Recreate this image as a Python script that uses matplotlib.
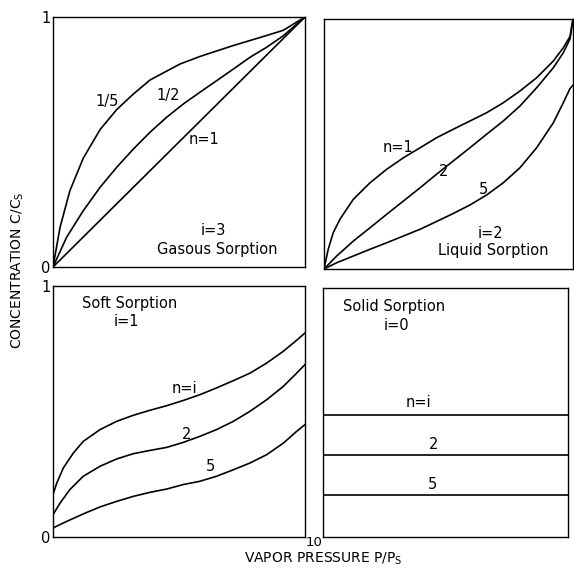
import matplotlib
matplotlib.use("Agg")
import matplotlib.pyplot as plt

# ---- data ----
# Gaseous sorption (i=3)
gas_x15 = [0.0, 0.028, 0.067, 0.12, 0.187, 0.253, 0.319, 0.385, 0.504,
           0.583, 0.649, 0.716, 0.782, 0.848, 0.914, 1.0]
gas_n15 = [0.0, 0.159, 0.305, 0.435, 0.55, 0.63, 0.692, 0.748, 0.812,
           0.842, 0.864, 0.886, 0.906, 0.926, 0.947, 1.0]
gas_x12 = [0.0, 0.054, 0.12, 0.187, 0.253, 0.319, 0.385, 0.451, 0.517,
           0.583, 0.649, 0.716, 0.782, 0.848, 0.914, 1.0]
gas_n12 = [0.0, 0.119, 0.225, 0.319, 0.399, 0.472, 0.539, 0.599, 0.652,
           0.699, 0.745, 0.792, 0.839, 0.879, 0.925, 1.0]
gas_x1 = [0.0, 1.0]
gas_n1 = [0.0, 1.0]

# Liquid sorption (i=2)
liq_x1 = [0.0, 0.017, 0.037, 0.064, 0.118, 0.185, 0.252, 0.319, 0.386, 0.452,
          0.519, 0.586, 0.653, 0.72, 0.787, 0.854, 0.921, 0.961, 0.988, 1.0]
liq_n1 = [0.0, 0.079, 0.145, 0.199, 0.279, 0.345, 0.399, 0.445, 0.485, 0.525,
          0.559, 0.592, 0.625, 0.665, 0.712, 0.765, 0.832, 0.885, 0.93, 1.0]
liq_x2 = [0.0, 0.051, 0.118, 0.185, 0.252, 0.319, 0.386, 0.452, 0.519, 0.586,
          0.653, 0.72, 0.787, 0.854, 0.921, 0.961, 0.988, 1.0]
liq_n2 = [0.0, 0.052, 0.112, 0.165, 0.219, 0.272, 0.325, 0.379, 0.432, 0.485,
          0.539, 0.592, 0.652, 0.725, 0.805, 0.865, 0.92, 1.0]
liq_x5 = [0.0, 0.051, 0.118, 0.185, 0.252, 0.319, 0.386, 0.452, 0.519, 0.586,
          0.653, 0.72, 0.787, 0.854, 0.921, 0.961, 0.988, 1.0]
liq_n5 = [0.0, 0.025, 0.052, 0.079, 0.105, 0.132, 0.159, 0.19, 0.222, 0.256,
          0.296, 0.345, 0.405, 0.485, 0.585, 0.665, 0.722, 0.735]

# Soft sorption (i=1)
soft_x = [0.0, 0.015, 0.041, 0.081, 0.12, 0.187, 0.253, 0.319, 0.385, 0.451,
          0.517, 0.583, 0.649, 0.716, 0.782, 0.848, 0.914, 0.967, 1.0]
soft_n1 = [0.169, 0.215, 0.275, 0.335, 0.381, 0.428, 0.461, 0.485, 0.505, 0.523,
           0.544, 0.567, 0.594, 0.623, 0.653, 0.693, 0.74, 0.784, 0.813]
soft_x2 = [0.0, 0.028, 0.067, 0.12, 0.187, 0.253, 0.319, 0.385, 0.451, 0.517,
           0.583, 0.649, 0.716, 0.782, 0.848, 0.914, 0.967, 1.0]
soft_n2 = [0.089, 0.135, 0.189, 0.242, 0.282, 0.311, 0.332, 0.345, 0.357, 0.377,
           0.401, 0.428, 0.461, 0.501, 0.547, 0.6, 0.653, 0.687]
soft_x5 = [0.0, 0.054, 0.12, 0.187, 0.253, 0.319, 0.385, 0.451, 0.517, 0.583,
           0.649, 0.716, 0.782, 0.848, 0.914, 0.967, 1.0]
soft_n5 = [0.036, 0.062, 0.092, 0.12, 0.142, 0.162, 0.178, 0.191, 0.209, 0.222,
           0.242, 0.268, 0.295, 0.328, 0.374, 0.421, 0.448]

# Solid sorption (i=0): constant levels
solid_x = [0.0, 1.0]
solid_levels = [0.49, 0.33, 0.17]

W, H = 574, 569
plt.rcParams['font.family'] = ['DejaVu Sans']
fig = plt.figure(figsize=(W / 100, H / 100), dpi=100)

def mk(l, r, t, b):
    return fig.add_axes([l / W, 1 - b / H, (r - l) / W, (b - t) / H])

ax_tl = mk(53, 305, 17, 267)
ax_tr = mk(324, 573, 19, 269)
ax_bl = mk(53, 305, 286, 537)
ax_br = mk(323, 568, 288, 537)

for ax in (ax_tl, ax_tr, ax_bl, ax_br):
    ax.set_xlim(0, 1)
    ax.set_ylim(0, 1)
    ax.set_xticks([])
    ax.set_yticks([])
    for s in ax.spines.values():
        s.set_linewidth(1.0)
        s.set_color('black')

lw = 1.2
fs = 10.5
k = dict(color='black', fontsize=fs, ha='center', va='center')

# top-left
ax_tl.plot(gas_x15, gas_n15, color='black', lw=lw)
ax_tl.plot(gas_x12, gas_n12, color='black', lw=lw)
ax_tl.plot(gas_x1, gas_n1, color='black', lw=lw)
ax_tl.text(0.214, 0.664, '1/5', **k)
ax_tl.text(0.458, 0.685, '1/2', **k)
ax_tl.text(0.60, 0.511, 'n=1', **k)
ax_tl.text(0.635, 0.145, 'i=3', **k)
ax_tl.text(0.65, 0.07, 'Gasous Sorption', **k)
ax_tl.set_yticks([0, 1])
ax_tl.set_yticklabels(['0', '1'], fontsize=fs)
ax_tl.tick_params(axis='y', length=0, pad=2)

# top-right
ax_tr.plot(liq_x1, liq_n1, color='black', lw=lw)
ax_tr.plot(liq_x2, liq_n2, color='black', lw=lw)
ax_tr.plot(liq_x5, liq_n5, color='black', lw=lw)
ax_tr.text(0.297, 0.488, 'n=1', **k)
ax_tr.text(0.48, 0.39, '2', **k)
ax_tr.text(0.64, 0.316, '5', **k)
ax_tr.text(0.67, 0.14, 'i=2', **k)
ax_tr.text(0.68, 0.072, 'Liquid Sorption', **k)

# bottom-left
ax_bl.plot(soft_x, soft_n1, color='black', lw=lw)
ax_bl.plot(soft_x2, soft_n2, color='black', lw=lw)
ax_bl.plot(soft_x5, soft_n5, color='black', lw=lw)
ax_bl.text(0.306, 0.929, 'Soft Sorption', **k)
ax_bl.text(0.292, 0.86, 'i=1', **k)
ax_bl.text(0.52, 0.59, 'n=i', **k)
ax_bl.text(0.53, 0.41, '2', **k)
ax_bl.text(0.623, 0.279, '5', **k)
ax_bl.set_yticks([0, 1])
ax_bl.set_yticklabels(['0', '1'], fontsize=fs)
ax_bl.tick_params(axis='y', length=0, pad=2)

# bottom-right
for lev in solid_levels:
    ax_br.plot(solid_x, [lev, lev], color='black', lw=lw)
ax_br.text(0.29, 0.924, 'Solid Sorption', **k)
ax_br.text(0.30, 0.85, 'i=0', **k)
ax_br.text(0.39, 0.54, 'n=i', **k)
ax_br.text(0.45, 0.37, '2', **k)
ax_br.text(0.445, 0.21, '5', **k)

# shared labels
fig.text(314 / W, 1 - 542 / H, '10', ha='center', va='center', fontsize=9.5)
fig.text(323 / W, 1 - 559 / H, 'VAPOR PRESSURE P/P$_\\mathregular{S}$',
         ha='center', va='center', fontsize=10)
fig.text(18 / W, 1 - 270 / H, 'CONCENTRATION C/C$_\\mathregular{S}$',
         ha='center', va='center', rotation=90, fontsize=10)

fig.savefig('out.png', dpi=100, facecolor='white')
